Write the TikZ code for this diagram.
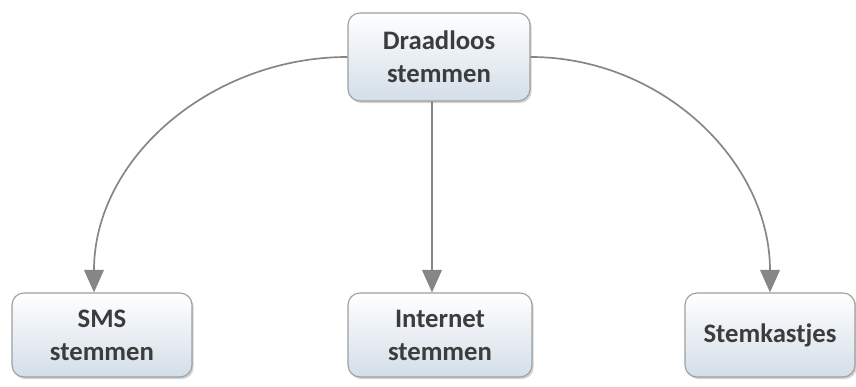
\documentclass[tikz,border=0pt]{standalone}
\usepackage{fontspec}
\setmainfont{Carlito}
\usetikzlibrary{arrows.meta,shadows}
\definecolor{boxtop}{HTML}{FFFFFF}
\definecolor{boxbot}{HTML}{D3DEE8}
\definecolor{linegray}{HTML}{868686}
\definecolor{textgray}{HTML}{3C3C3C}
\tikzset{
  votebox/.style={draw=gray!75,line width=0.8pt,rounded corners=0.3cm,
    top color=boxtop,bottom color=boxbot,align=center,
    font=\fontsize{19}{23.5}\selectfont\bfseries,text=textgray,
    drop shadow={shadow xshift=1.2pt,shadow yshift=-1.5pt,opacity=0.35}},
  link/.style={linegray,line width=1.2pt,-{Triangle[length=16pt,width=14pt]}}
}
\begin{document}
\begin{tikzpicture}[x=0.025cm,y=-0.025cm]
\useasboundingbox (0,0) rectangle (856,387);
\node[votebox,minimum width=4.55cm,minimum height=2.2cm] (draadloos) at (439,57) {Draadloos\\stemmen};
\node[votebox,minimum width=4.5cm,minimum height=2.1cm] (sms) at (102,335) {SMS\\stemmen};
\node[votebox,minimum width=4.6cm,minimum height=2.1cm] (internet) at (440,335) {Internet\\stemmen};
\node[votebox,minimum width=4.25cm,minimum height=2.1cm] (kastjes) at (770,335) {Stemkastjes};
\draw[link] (draadloos.west) to[out=180,in=90] ([xshift=-0.2cm]sms.north);
\draw[link] ([xshift=-0.175cm]draadloos.south) -- ([xshift=-0.2cm]internet.north);
\draw[link] (draadloos.east) to[out=0,in=90] (kastjes.north);
\end{tikzpicture}
\end{document}
